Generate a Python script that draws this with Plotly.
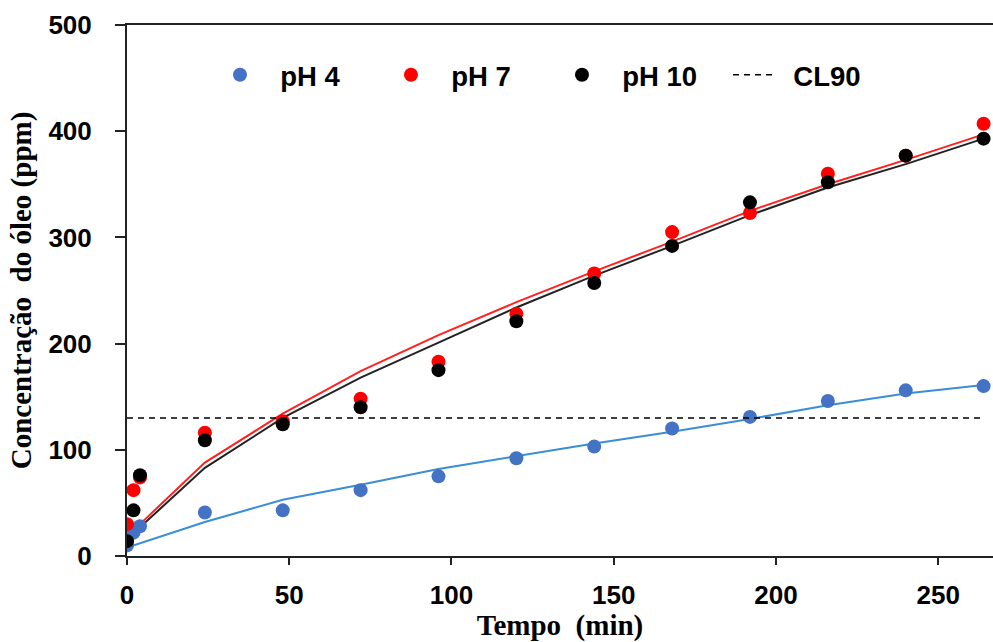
import plotly.graph_objects as go

tempo = [0, 2, 4, 24, 48, 72, 96, 120, 144, 168, 192, 216, 240, 264]

ph4 = [10, 22, 28, 41, 43, 62, 75, 92, 103, 120, 131, 146, 156, 160]
ph7 = [30, 62, 74, 116, 127, 148, 183, 228, 266, 305, 323, 360, 377, 407]
ph10 = [14, 43, 76, 109, 124, 140, 175, 221, 257, 292, 333, 352, 377, 393]

fit4 = [8, 10, 12, 32, 53, 67, 82, 94, 106, 117, 129, 142, 153, 161]
fit7 = [18, 24, 30, 88, 134, 174, 208, 239, 268, 296, 325, 350, 373, 397]
fit10 = [16, 22, 27, 83, 130, 168, 201, 234, 264, 292, 321, 347, 369, 393]

cl90 = 130
cl90_x = [0, 264]

x_ticks = [0, 50, 100, 150, 200, 250]
y_ticks = [0, 100, 200, 300, 400, 500]

legend_names = ["  pH 4", "  pH 7", "  pH 10", "  CL90"]

fig = go.Figure()

# fitted curves
fig.add_trace(go.Scatter(x=tempo, y=fit4, mode="lines", line=dict(color="#3A8ED6", width=2), showlegend=False, hoverinfo="skip"))
fig.add_trace(go.Scatter(x=tempo, y=fit7, mode="lines", line=dict(color="#FF2020", width=2), showlegend=False, hoverinfo="skip"))
fig.add_trace(go.Scatter(x=tempo, y=fit10, mode="lines", line=dict(color="#222222", width=2), showlegend=False, hoverinfo="skip"))

# data points
fig.add_trace(go.Scatter(x=tempo, y=ph4, mode="markers", name=legend_names[0], marker=dict(color="#4472C4", size=14)))
fig.add_trace(go.Scatter(x=tempo, y=ph7, mode="markers", name=legend_names[1], marker=dict(color="#FF0000", size=14)))
fig.add_trace(go.Scatter(x=tempo, y=ph10, mode="markers", name=legend_names[2], marker=dict(color="#000000", size=14)))

# CL90 line
fig.add_trace(go.Scatter(x=cl90_x, y=[cl90, cl90], mode="lines", name=legend_names[3],
                         line=dict(color="#000000", width=1.5, dash="6px,5px")))

fig.update_layout(
    width=993, height=642,
    margin=dict(l=127, r=0, t=25, b=86),
    paper_bgcolor="white", plot_bgcolor="white",
    font=dict(family="Liberation Sans, Arial, sans-serif", color="black"),
    legend=dict(
        orientation="h", x=0.1016, xanchor="left", y=0.906, yanchor="middle",
        font=dict(family="Liberation Sans, Arial, sans-serif", size=27.5, color="black", weight="bold"),
        itemwidth=40, entrywidth=116, entrywidthmode="pixels",
        bgcolor="rgba(0,0,0,0)",
    ),
    xaxis=dict(
        range=[0, 266.9], tickvals=x_ticks, ticktext=[str(v) for v in x_ticks],
        showgrid=False, zeroline=False, automargin=False,
        showline=True, linecolor="#222222", linewidth=2, mirror=True,
        ticks="outside", ticklen=7, tickwidth=2, tickcolor="#222222",
        ticklabelstandoff=8,
        tickfont=dict(family="Liberation Sans, Arial, sans-serif", size=26, color="black", weight="bold"),
        title=dict(text="Tempo  (min)", standoff=4,
                   font=dict(family="Liberation Serif, Times New Roman, serif", size=29, color="black", weight="bold")),
    ),
    yaxis=dict(
        range=[0, 500], tickvals=y_ticks, ticktext=[str(v) for v in y_ticks],
        showgrid=False, zeroline=False, automargin=False,
        showline=True, linecolor="#222222", linewidth=2,
        ticks="outside", ticklen=10, tickwidth=2, tickcolor="#222222",
        ticklabelstandoff=18,
        tickfont=dict(family="Liberation Sans, Arial, sans-serif", size=26, color="black", weight="bold"),
        title=dict(text="Concentração  do óleo (ppm)", standoff=8,
                   font=dict(family="Liberation Serif, Times New Roman, serif", size=29, color="black", weight="bold")),
    ),
)

fig.write_html("out.html")
